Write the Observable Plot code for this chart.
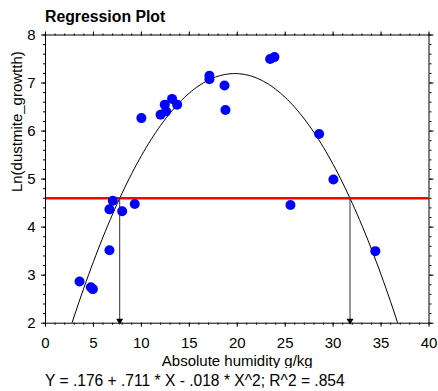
<!DOCTYPE html>
<html>
<head>
<meta charset="utf-8">
<script src="https://cdn.jsdelivr.net/npm/d3@7"></script>
<script src="https://cdn.jsdelivr.net/npm/@observablehq/plot@0.6"></script>
<style>
  body { margin: 0; background: #fff; font-family: "Liberation Sans", Arial, sans-serif; }
  #chart { width: 438px; }
  .title { box-sizing: border-box; height: 24px; padding: 9px 0 0 45px; font-size: 15.8px; font-weight: bold; line-height: 15px; color: #000; }
  .caption { margin-top: 5px; padding-left: 45px; font-size: 15.6px; line-height: 15px; color: #000; }
  svg { display: block; }
</style>
</head>
<body>
<div id="chart"></div>
<script>
// Observations: absolute humidity (g/kg) vs. log dust-mite growth
const humidity = [3.55, 4.73, 4.94, 6.67, 6.67, 7.02, 8.0, 9.31, 10.0, 12.0, 12.44, 12.58, 13.2, 13.73,
                  17.1, 17.1, 18.67, 18.77, 23.43, 23.88, 25.55, 28.54, 30.03, 34.4];
const lnGrowth = [2.87, 2.75, 2.71, 3.52, 4.37, 4.55, 4.33, 4.48, 6.27, 6.34, 6.55, 6.41, 6.67, 6.55,
                  7.15, 7.08, 6.95, 6.44, 7.5, 7.54, 4.46, 5.94, 4.99, 3.5];

// Quadratic fit: Y = b0 + b1*X + b2*X^2
const coef = {b0: 0.176, b1: 0.711, b2: -0.018};
const threshold = 4.6;

const xMajor = [0, 5, 10, 15, 20, 25, 30, 35, 40];
const yMajor = [2, 3, 4, 5, 6, 7, 8];
const xMinor = d3.range(0, 41, 1);
const yMinor = d3.range(0, 31).map(i => 2 + i * 0.2);

const points = humidity.map((x, i) => ({x, y: lnGrowth[i]}));
const fit = x => coef.b0 + coef.b1 * x + coef.b2 * x * x;
const curve = d3.range(2, 38.01, 0.25).map(x => ({x, y: fit(x)}));

// where the fitted curve meets the threshold line
const disc = Math.sqrt(coef.b1 * coef.b1 - 4 * coef.b2 * (coef.b0 - threshold));
const crossings = [(-coef.b1 + disc) / (2 * coef.b2), (-coef.b1 - disc) / (2 * coef.b2)].sort((a, b) => a - b);

const font = 15;
const plot = Plot.plot({
  width: 438,
  height: 344,
  marginTop: 10.5,
  marginBottom: 45.3,
  marginLeft: 45,
  marginRight: 9.5,
  style: {fontFamily: '"Liberation Sans", Arial, sans-serif', fontSize: font + "px", color: "#000", background: "#fff"},
  x: {domain: [0, 40]},
  y: {domain: [2, 8]},
  marks: [
    Plot.line(curve, {x: "x", y: "y", stroke: "#000", strokeWidth: 1, clip: true}),
    Plot.ruleY([threshold], {stroke: "#ff0000", strokeWidth: 2.5}),
    Plot.ruleX(crossings, {x: d => d, y1: 2, y2: threshold, stroke: "#333", strokeWidth: 1}),
    Plot.dot(crossings, {x: d => d, y: 2, symbol: "triangle", r: 2.6, rotate: 180, dy: -2.5, fill: "#000", stroke: "none"}),
    Plot.dot(points, {x: "x", y: "y", r: 5, fill: "#0000ff", stroke: "none"}),
    Plot.frame({stroke: "#000", strokeWidth: 1}),
    // bottom axis
    Plot.axisX({anchor: "bottom", ticks: xMajor, tickSize: 4, tickPadding: 10, tickFormat: d3.format("d"), fontSize: font, label: null}),
    Plot.axisX({anchor: "bottom", ticks: xMinor, tickSize: 2, tickFormat: () => "", label: null}),
    // top axis
    Plot.axisX({anchor: "top", ticks: xMajor, tickSize: 4, tickFormat: () => "", label: null}),
    Plot.axisX({anchor: "top", ticks: xMinor, tickSize: 2, tickFormat: () => "", label: null}),
    // left axis
    Plot.axisY({anchor: "left", ticks: yMajor, tickSize: 4, tickPadding: 6, tickFormat: d3.format("d"), fontSize: font, label: null}),
    Plot.axisY({anchor: "left", ticks: yMinor, tickSize: 2, tickFormat: () => "", label: null}),
    // right axis
    Plot.axisY({anchor: "right", ticks: yMajor, tickSize: 4, tickFormat: () => "", label: null}),
    Plot.axisY({anchor: "right", ticks: yMinor, tickSize: 2, tickFormat: () => "", label: null}),
    // axis titles
    Plot.text(["Absolute humidity g/kg"], {frameAnchor: "bottom", lineAnchor: "top", dy: 32, text: d => d, fontSize: font, fill: "#000"}),
    Plot.text(["Ln(dustmite_growtth)"], {frameAnchor: "left", dx: -28, dy: 13, rotate: -90, text: d => d, fontSize: font, fill: "#000"})
  ]
});

const chart = document.getElementById("chart");
const title = document.createElement("div");
title.className = "title";
title.textContent = "Regression Plot";
const caption = document.createElement("div");
caption.className = "caption";
caption.textContent = "Y = .176 + .711 * X - .018 * X^2; R^2 = .854";
chart.append(title, plot, caption);
</script>
</body>
</html>
